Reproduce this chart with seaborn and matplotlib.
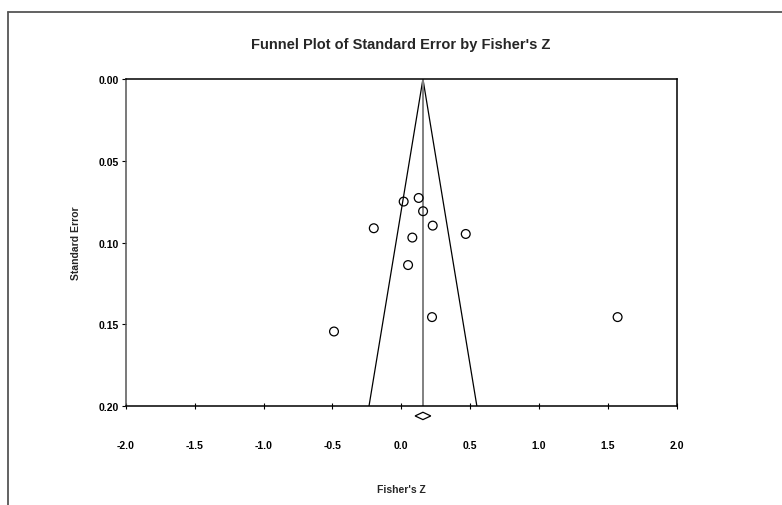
import numpy as np
import pandas as pd
import seaborn as sns
import matplotlib.pyplot as plt
from matplotlib.lines import Line2D
from matplotlib.patches import Polygon

# исследования: Fisher's Z и стандартная ошибка
fisher_z = [0.017, 0.126, 0.158, -0.200, 0.228, 0.468, 0.080, 0.049, 0.223, 1.571, -0.489]
std_err = [0.0749, 0.0727, 0.0808, 0.0912, 0.0896, 0.0947, 0.0969, 0.1137, 0.1455, 0.1455, 0.1543]

# сводная оценка и её доверительный интервал
pooled_z = 0.157
pooled_ci = [0.100, 0.214]
funnel_se = [0.0, 0.20]

x_ticks = [-2.0, -1.5, -1.0, -0.5, 0.0, 0.5, 1.0, 1.5, 2.0]
y_ticks = [0.00, 0.05, 0.10, 0.15, 0.20]

df = pd.DataFrame({'z': fisher_z, 'se': std_err})

sns.set_style('white')
plt.rcParams['font.family'] = ['Liberation Sans Narrow', 'Liberation Sans', 'DejaVu Sans']

fig = plt.figure(figsize=(7.82, 5.06), dpi=100)
ax = fig.add_axes([0.1611, 0.1951, 0.7042, 0.6468])

# воронка: pooled +- 1.96*SE
se_arr = np.array(funnel_se)
ax.plot(pooled_z - 1.96 * se_arr, se_arr, color='black', lw=0.9)
ax.plot(pooled_z + 1.96 * se_arr, se_arr, color='black', lw=0.9)
ax.plot([pooled_z, pooled_z], funnel_se, color='#808080', lw=1.4)

sns.scatterplot(x='z', y='se', data=df, ax=ax, marker='o', s=40,
                facecolor='none', edgecolor='black', linewidth=0.9, zorder=3)

# ромб сводной оценки под осью
y0, h = 0.2059, 0.00225
diamond = Polygon([[pooled_ci[0], y0], [pooled_z, y0 - h], [pooled_ci[1], y0], [pooled_z, y0 + h]],
                  closed=True, facecolor='white', edgecolor='black', lw=0.9, clip_on=False)
ax.add_patch(diamond)

ax.set_xlim(-2.0, 2.0)
ax.set_ylim(0.20, 0.0)
ax.set_xticks(x_ticks)
ax.set_xticklabels([f'{v:.1f}' for v in x_ticks])
ax.set_yticks(y_ticks)
ax.set_yticklabels([f'{v:.2f}' for v in y_ticks])
ax.tick_params(axis='x', direction='inout', length=5, width=0.8, pad=22, labelsize=7.5, colors='black')
ax.tick_params(axis='y', direction='out', length=3, width=0.8, pad=2, labelsize=7.5, colors='black')
ax.tick_params(left=True, bottom=True)
for lab in ax.get_xticklabels() + ax.get_yticklabels():
    lab.set_fontweight('bold')

for s in ax.spines.values():
    s.set_color('black')
    s.set_linewidth(1.1)
ax.spines['left'].set_color('#555555')

ax.set_xlabel("Fisher's Z", fontsize=7.5, fontweight='bold', labelpad=24)
ax.set_ylabel('Standard Error', fontsize=7.5, fontweight='bold', labelpad=13)
fig.text(0.5125, 0.911, "Funnel Plot of Standard Error by Fisher's Z", ha='center', va='center',
         fontsize=10.5, fontweight='bold')

# рамка вокруг рисунка
fig.add_artist(Line2D([0.0102, 1.0], [0.9743, 0.9743], color='#555555', lw=1.3))
fig.add_artist(Line2D([0.0102, 0.0102], [0.0, 0.9743], color='#555555', lw=1.3))

fig.savefig('out.png', dpi=100)
